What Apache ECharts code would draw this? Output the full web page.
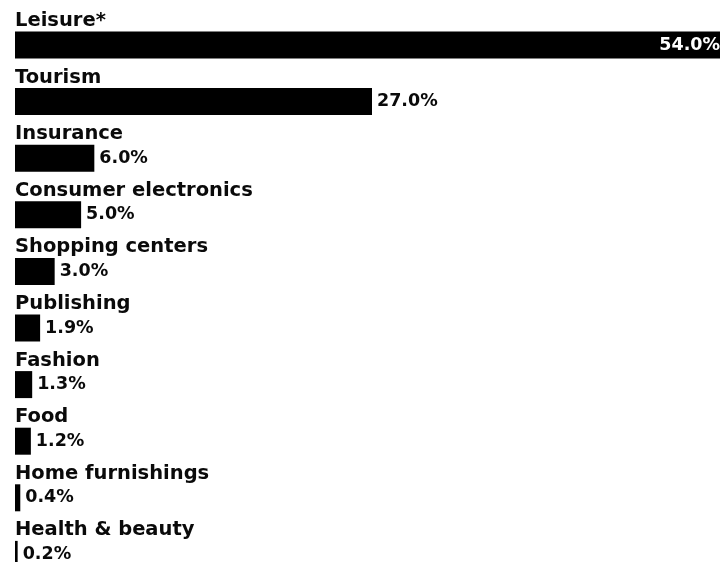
<!DOCTYPE html>
<html>
<head>
<meta charset="utf-8">
<script src="https://cdn.jsdelivr.net/npm/echarts@6/dist/echarts.min.js"></script>
<style>html,body{margin:0;padding:0;background:#fff;}#c{width:720px;height:562px;}</style>
</head>
<body>
<div id="c"></div>
<script>
var categories = ["Leisure*", "Tourism", "Insurance", "Consumer electronics", "Shopping centers", "Publishing", "Fashion", "Food", "Home furnishings", "Health & beauty"];
var values = [54.0, 27.0, 6.0, 5.0, 3.0, 1.9, 1.3, 1.2, 0.4, 0.2];

var FONT = '"DejaVu Sans", sans-serif';
var chart = echarts.init(document.getElementById('c'), null, {renderer: 'canvas'});
var data = values.map(function (v, i) {
  var item = {value: v};
  if (i === 0) {
    item.label = {position: 'insideRight', color: '#fff', distance: 9};
  }
  return item;
});
chart.setOption({
  animation: false,
  backgroundColor: '#fff',
  grid: {left: 15, top: 16.7, width: 714, height: 566, containLabel: false, outerBoundsMode: 'none'},
  xAxis: {type: 'value', min: 0, max: 54, show: false},
  yAxis: {
    type: 'category', data: categories, inverse: true,
    axisLine: {show: false}, axisTick: {show: false}, splitLine: {show: false},
    axisLabel: {
      inside: true, margin: 0, align: 'left', verticalAlign: 'bottom',
      padding: [0, 0, 14, 0],
      fontFamily: FONT, fontWeight: 'bold', fontSize: 19.5, color: '#0a0a0a'
    }
  },
  series: [{
    type: 'bar', data: data, barWidth: 27, clip: false,
    itemStyle: {color: '#000'},
    label: {
      show: true, position: 'right', distance: 5,
      fontFamily: FONT, fontWeight: 'bold', fontSize: 17.5, color: '#0a0a0a',
      formatter: function (p) { return p.value.toFixed(1) + '%'; }
    }
  }]
});
</script>
</body>
</html>
